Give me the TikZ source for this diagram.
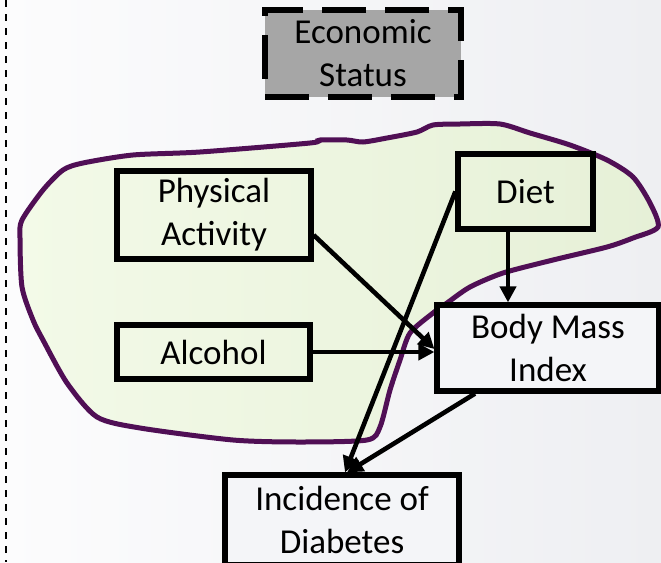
\documentclass[tikz,border=0pt]{standalone}
\usepackage{fontspec}
\setmainfont{Carlito}
\usetikzlibrary{arrows.meta}
\definecolor{bgL}{HTML}{FCFCFD}
\definecolor{bgR}{HTML}{EEEFF2}
\definecolor{blobL}{HTML}{F3FAE8}
\definecolor{blobR}{HTML}{E6F0D7}
\definecolor{blobLine}{HTML}{500F55}
\definecolor{boxbg}{HTML}{F4F5F8}
\definecolor{econgray}{HTML}{A6A6A6}
\tikzset{
  box/.style={draw=black, line width=5.2pt, align=center, inner sep=0pt,
    font=\fontsize{35}{43}\selectfont},
  conn/.style={line width=4.6pt, -{Triangle[length=16pt,width=16pt]}},
}
\begin{document}
\begin{tikzpicture}[x=1pt,y=-1pt]
\useasboundingbox (0,0) rectangle (661,562);
\fill[left color=bgL, right color=bgR] (0,0) rectangle (661,562);
\draw[line width=2pt, dash pattern=on 7pt off 7pt] (6,0) -- (6,562);

% blob
\draw[line width=5pt, blobLine, left color=blobL, right color=blobR]
  plot[smooth cycle, tension=0.45] coordinates {
  (20,238) (22,220) (43,190) (63,170) (83,163) (133,155) (200,152) (310,143)
  (320,140) (347,140) (363,142) (387,138) (417,132) (433,125) (460,124)
  (500,124) (530,133) (570,145) (607,160) (633,177) (650,203) (658,227)
  (633,238) (607,247) (553,260) (503,273) (470,287) (447,303) (433,313)
  (410,333) (400,360) (390,390) (380,427) (367,440) (300,442) (233,440)
  (140,428) (97,417) (67,383) (43,340) (33,320) (22,287)};

% nodes
\node[box, fill=econgray, line width=6pt, dash pattern=on 44pt off 19pt,
  minimum width=196pt, minimum height=87pt] (econ) at (363,53.5) {Economic\\Status};
\node[box, minimum width=194pt, minimum height=88pt] (pa) at (214,215) {Physical\\Activity};
\node[box, minimum width=193pt, minimum height=54pt] (alc) at (213.5,352) {Alcohol};
\node[box, minimum width=135pt, minimum height=75pt] (diet) at (525.5,191.5) {Diet};
\node[box, fill=boxbg, minimum width=222pt, minimum height=86pt] (bmi) at (548,348) {Body Mass\\Index};
\node[box, fill=boxbg, minimum width=234pt, minimum height=90pt] (inc) at (342,520) {Incidence of\\Diabetes};

% connectors
\draw[conn] ([yshift=-20pt]pa.east) -- ([yshift=-1pt]bmi.west);
\draw[conn] (alc.east) -- (alc.east -| bmi.west);
\draw[conn] ([xshift=-17.5pt]diet.south) -- ([xshift=-17.5pt]diet.south |- bmi.north);
\draw[conn] (diet.west) -- ([xshift=3pt]inc.north);
\draw[conn] ([xshift=-73pt]bmi.south) -- ([xshift=5pt]inc.north);
\end{tikzpicture}
\end{document}
